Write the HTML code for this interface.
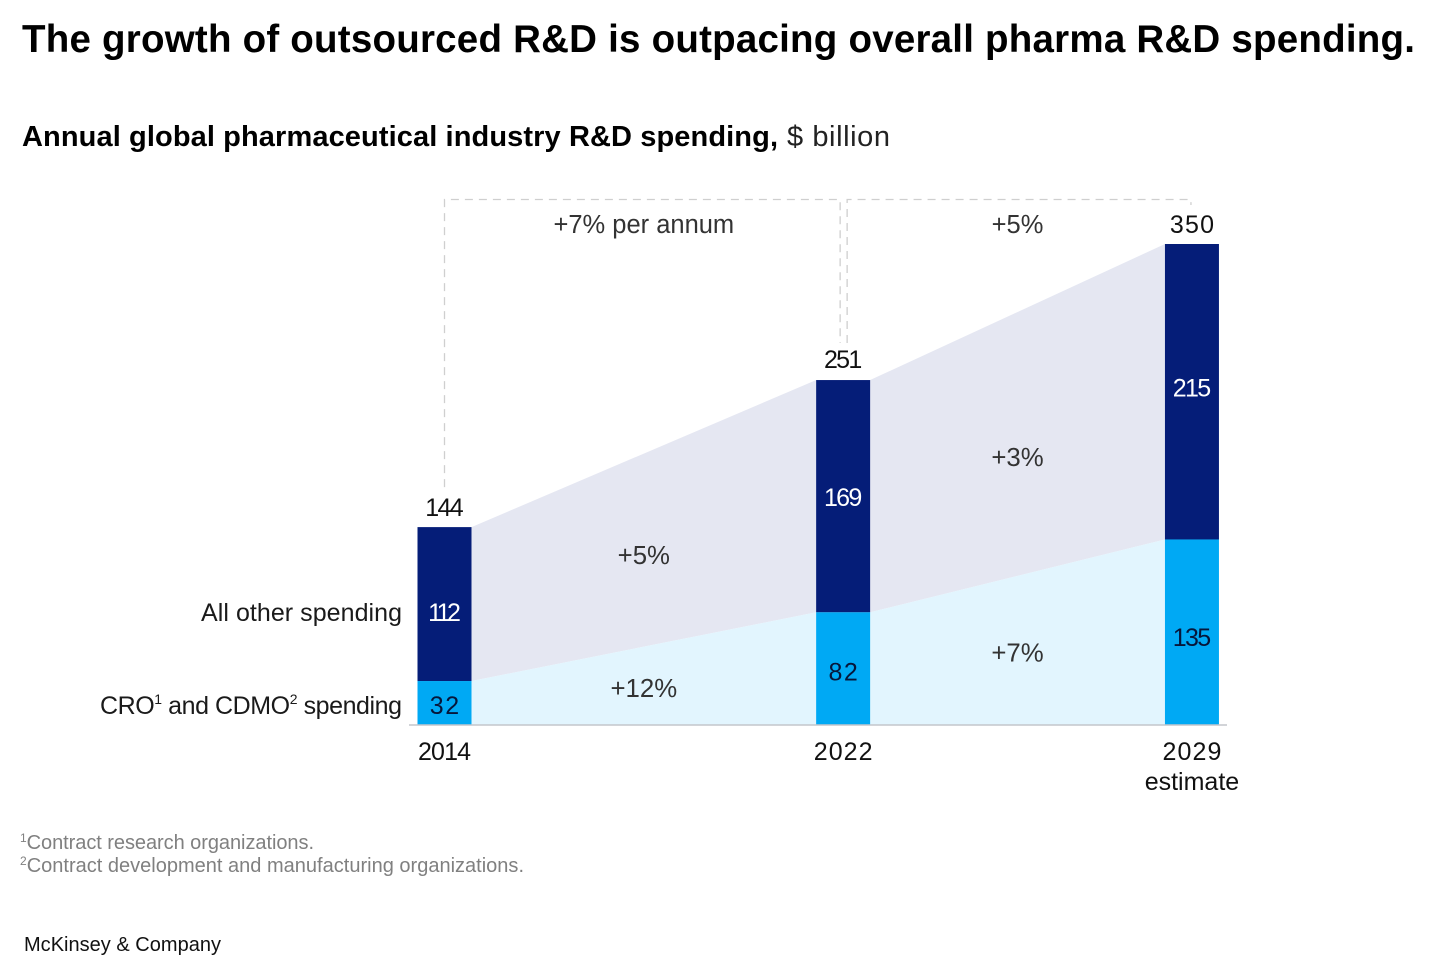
<!DOCTYPE html>
<html lang="en">
<head>
<meta charset="utf-8">
<title>Pharma R&amp;D spending</title>
<style>
html,body{margin:0;padding:0;background:#fff;width:1456px;height:980px;overflow:hidden}
svg{display:block}
text{font-family:"Liberation Sans",sans-serif}
</style>
</head>
<body>
<svg id="chart" xmlns="http://www.w3.org/2000/svg" width="1456" height="980" viewBox="0 0 1456 980">
  <rect x="0" y="0" width="1456" height="980" fill="#ffffff"/>
  <text x="22" y="52" font-size="38.5" font-weight="700" fill="#000" textLength="1393" lengthAdjust="spacing">The growth of outsourced R&amp;D is outpacing overall pharma R&amp;D spending.</text>
  <text x="22" y="146" font-size="29" font-weight="700" fill="#000" textLength="756" lengthAdjust="spacing">Annual global pharmaceutical industry R&amp;D spending,</text>
  <text x="787" y="146" font-size="29" fill="#222" textLength="103" lengthAdjust="spacing">$ billion</text>
  <g id="plot"></g>
  <text x="201" y="621" font-size="25" fill="#1a1a1a" textLength="201" lengthAdjust="spacing">All other spending</text>
  <text x="100" y="714" font-size="25" fill="#1a1a1a" textLength="302" lengthAdjust="spacing">CRO<tspan font-size="14" dy="-10">1</tspan><tspan dy="10"> and CDMO</tspan><tspan font-size="14" dy="-10">2</tspan><tspan dy="10"> spending</tspan></text>
  <text x="20" y="849" font-size="20" fill="#808080" textLength="294" lengthAdjust="spacing"><tspan font-size="12" dy="-7">1</tspan><tspan dy="7">Contract research organizations.</tspan></text>
  <text x="20" y="872" font-size="20" fill="#808080" textLength="504" lengthAdjust="spacing"><tspan font-size="12" dy="-7">2</tspan><tspan dy="7">Contract development and manufacturing organizations.</tspan></text>
  <text x="24" y="951" font-size="20" fill="#111" textLength="197" lengthAdjust="spacing">McKinsey &amp; Company</text>
</svg>
<script>
const years = [2014, 2022, 2029];
const yearNotes = ["", "", "estimate"];
const croCdmoSpend = [32, 82, 135];
const otherSpend = [112, 169, 215];
const croGrowth = ["+12%", "+7%"];
const otherGrowth = ["+5%", "+3%"];
const totalGrowth = ["+7% per annum", "+5%"];

const NS = "http://www.w3.org/2000/svg";
const plot = document.getElementById("plot");
const BASE_Y = 725;
const PX_PER_UNIT = 481 / 350;
const X_2014 = 444.5;
const PX_PER_YEAR = 49.83;
const BAR_W = 54;
const x = yr => X_2014 + (yr - years[0]) * PX_PER_YEAR;
const y = v => BASE_Y - v * PX_PER_UNIT;
const totals = years.map((_, i) => croCdmoSpend[i] + otherSpend[i]);

function make(tag, attrs, text) {
  const el = document.createElementNS(NS, tag);
  for (const k in attrs) el.setAttribute(k, attrs[k]);
  if (text !== undefined) el.textContent = text;
  plot.appendChild(el);
  return el;
}
function label(px, py, str, fill, size) {
  return make("text", {x: px, y: py, "font-size": size || 25, fill: fill, "text-anchor": "middle"}, str);
}
// Numerals in the reference face have a narrow "1"; fit each number to that width.
function numLabel(px, py, num, fill) {
  const s = String(num);
  let w = 0;
  for (const c of s) w += c === "1" ? 9 : 14.7;
  const el = label(px, py, s, fill);
  el.setAttribute("textLength", w);
  el.setAttribute("lengthAdjust", "spacing");
  return el;
}

for (let i = 0; i < years.length - 1; i++) {
  const a = x(years[i]) + BAR_W / 2, b = x(years[i + 1]) - BAR_W / 2;
  const other = make("polygon", {
    points: `${a},${y(totals[i])} ${b},${y(totals[i + 1])} ${b},${y(croCdmoSpend[i + 1])} ${a},${y(croCdmoSpend[i])}`,
    fill: "#e5e7f2"
  });
  
  
  const cro = make("polygon", {
    points: `${a},${y(croCdmoSpend[i])} ${b},${y(croCdmoSpend[i + 1])} ${b},${BASE_Y} ${a},${BASE_Y}`,
    fill: "#e2f5fe"
  });
  
  
}

const lblNudgeCro = [2, 3, 5];
const lblNudgeOther = [8, 1, -4];
const lblNudgeTotal = [0, -1, 0];
years.forEach((yr, i) => {
  const cx = x(yr), left = cx - BAR_W / 2;
  const top = make("rect", {x: left, y: y(totals[i]), width: BAR_W, height: y(croCdmoSpend[i]) - y(totals[i]), fill: "#051d78"});
  
  
  const bot = make("rect", {x: left, y: y(croCdmoSpend[i]), width: BAR_W, height: BASE_Y - y(croCdmoSpend[i]), fill: "#00a9f4"});
  
  

  const v1 = numLabel(cx, (y(totals[i]) + y(croCdmoSpend[i])) / 2 + lblNudgeOther[i] + 9, otherSpend[i], "#ffffff");
  
  
  const v2 = numLabel(cx, (y(croCdmoSpend[i]) + BASE_Y) / 2 + lblNudgeCro[i] + 9, croCdmoSpend[i], "#06163a");
  
  
  const v3 = numLabel(cx, y(totals[i]) - 11 + lblNudgeTotal[i], totals[i], "#111");
  
  
  const t = numLabel(cx, 760, yr, "#111");
  
  
  if (yearNotes[i]) {
    const n = label(cx, 790, yearNotes[i], "#111");
    
    
  }
});

const axis = make("line", {x1: 409, x2: 1227, y1: BASE_Y, y2: BASE_Y, stroke: "#c3c6cc", "stroke-width": 1.5});



const bandNudgeOther = [5, 13];
const bandNudgeCro = [2, 2];
for (let i = 0; i < years.length - 1; i++) {
  const mx = (x(years[i]) + x(years[i + 1])) / 2;
  const midCro = (croCdmoSpend[i] + croCdmoSpend[i + 1]) / 2;
  const midTotal = (totals[i] + totals[i + 1]) / 2;
  const g1 = label(mx, y((midTotal + midCro) / 2) + bandNudgeOther[i] + 9, otherGrowth[i], "#333", 25.8);
  
  
  const g2 = label(mx, y(midCro / 2) + bandNudgeCro[i] + 9, croGrowth[i], "#333", 25.8);
  
  
  const g3 = label(mx, 233, totalGrowth[i], "#333", 25.5);
  
  
}

const BRACKET_Y = 199.5;
const dash = {fill: "none", stroke: "#cfcfcf", "stroke-width": 1.3, "stroke-dasharray": "8 6"};
const b1 = make("path", Object.assign({d: `M${x(years[0])},${y(totals[0]) - 40}V${BRACKET_Y}H${x(years[1]) - 3}V${y(totals[1]) - 37}`}, dash));


const b2 = make("path", Object.assign({d: `M${x(years[1]) + 4},${y(totals[1]) - 37}V${BRACKET_Y}H${x(years[2]) - 1}V${y(totals[2]) - 39}`}, dash));


</script>
</body>
</html>
